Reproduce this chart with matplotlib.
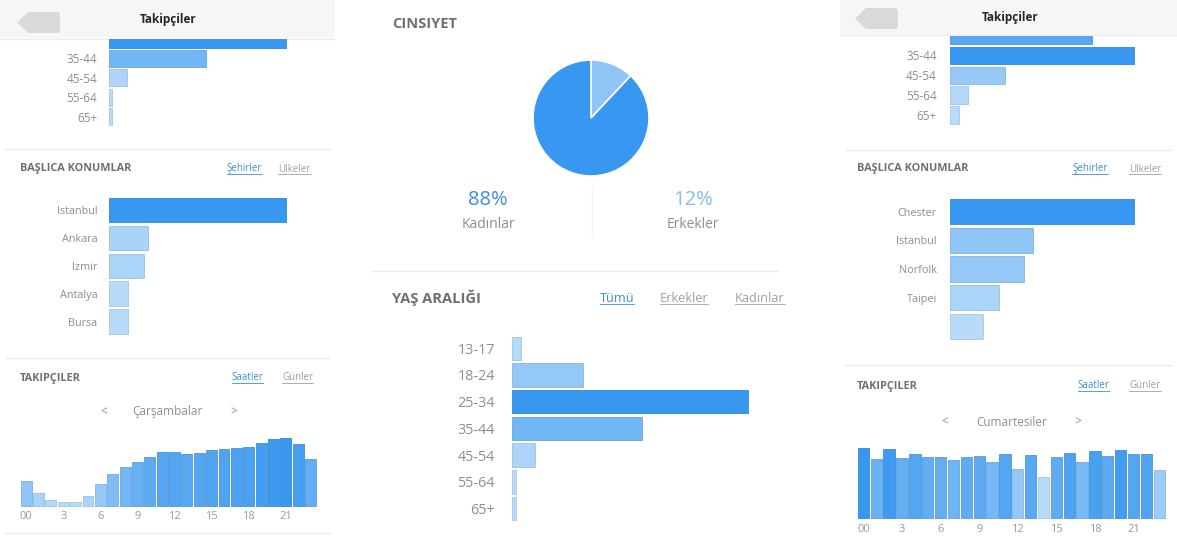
import matplotlib
matplotlib.use("Agg")
import matplotlib.pyplot as plt
from matplotlib.colors import LinearSegmentedColormap
from matplotlib.patches import Polygon, Rectangle
import numpy as np

plt.rcParams['font.family'] = ['Open Sans', 'DejaVu Sans']

W, H = 1177, 540

# ---- data ----
age_labels = ['13-17', '18-24', '25-34', '35-44', '45-54', '55-64', '65+']
age_all = [3.8, 30, 100, 55, 10, 1.7, 1.7]          # middle panel (Tümü)
side_age_labels = ['25-34', '35-44', '45-54', '55-64', '65+']
age_left = [100, 55, 10, 1.7, 1.7]                   # left panel, scrolled
age_right = [77, 100, 30, 9.7, 4.9]                  # right panel, scrolled

cities_left = ['Istanbul', 'Ankara', 'Izmir', 'Antalya', 'Bursa']
city_vals_left = [100, 22, 20, 11, 11]
cities_right = ['Chester', 'Istanbul', 'Norfolk', 'Taipei', '']
city_vals_right = [100, 45, 40.5, 26.5, 17.8]

hours = list(range(24))
hour_ticks = ['00', '3', '6', '9', '12', '15', '18', '21']
wed = [75, 37, 18, 10, 10, 29, 66, 96, 115, 132, 147, 162,
       162, 154, 158, 166, 170, 174, 176, 187, 199, 204, 184, 140]
sat = [212, 178, 208, 182, 192, 183, 183, 175, 185, 187, 170, 193,
       149, 190, 125, 185, 197, 168, 201, 187, 205, 192, 194, 145]

gender = [12, 88]
gender_pct = ['12%', '88%']
gender_labels = ['Erkekler', 'Kadınlar']

GRAY = '#8e8e8e'
HEAD = '#6f6f6f'
BLUE = '#3b8fd6'
LINE = '#ececec'

cmap = LinearSegmentedColormap.from_list('ig', ['#b9dbfa', '#3897f0'])


def shades(vals):
    v = np.array(vals, float)
    return cmap((v - v.min()) / (v.max() - v.min()))


def edges(cols):
    e = cols.copy()
    e[:, :3] = e[:, :3] * 0.9
    return e


fig = plt.figure(figsize=(W / 100, H / 100), dpi=100)
bg = fig.add_axes([0, 0, 1, 1], zorder=0)
bg.set_xlim(0, W)
bg.set_ylim(H, 0)
bg.axis('off')


def px_axes(x0, y0, x1, y1):
    ax = fig.add_axes([x0 / W, 1 - y1 / H, (x1 - x0) / W, (y1 - y0) / H], zorder=2)
    ax.patch.set_alpha(0)
    for s in ax.spines.values():
        s.set_visible(False)
    return ax


def hbars(x0, x1, y_top, y_bot, yc0, pitch, labels, vals, fs, pad, hide_first=False):
    ax = px_axes(x0, y_top, x1, y_bot)
    pos = np.arange(len(vals))
    c = shades(vals)
    ax.barh(pos, vals, height=0.88, color=c, edgecolor=edges(c), linewidth=0.6)
    ax.set_xlim(0, 100.5)
    ax.set_ylim((y_bot - yc0) / pitch, (y_top - yc0) / pitch)
    shown = list(labels)
    if hide_first:
        # first bar is scrolled under the header, its label is hidden
        shown[0] = ''
    ax.set_yticks(pos, shown)
    ax.set_xticks([])
    ax.tick_params(axis='y', length=0, pad=pad, labelsize=fs, labelcolor=GRAY)
    return ax


def hour_bars(x0, x1, y_top, y_base, vals):
    ax = px_axes(x0, y_top, x1, y_base)
    c = shades(vals)
    ax.bar(hours, vals, width=0.88, color=c, edgecolor=edges(c), linewidth=0.6, clip_on=False)
    ax.set_xlim(-0.5, 23.5)
    ax.set_ylim(0, max(vals))
    ax.set_xticks(hours[::3], hour_ticks)
    ax.set_yticks([])
    ax.tick_params(axis='x', length=0, pad=4, labelsize=8, labelcolor='#9a9a9a')
    return ax


def txt(x, y, s, fs=7, color=GRAY, ha='center', bold=False):
    return bg.text(x, y, s, fontsize=fs, color=color, ha=ha, va='center',
                   fontweight='bold' if bold else 'normal')


links = []


def link(x, y, s, color, fs=7):
    links.append((txt(x, y, s, fs, color), color))


def hline(y, x0, x1):
    bg.plot([x0, x1], [y, y], color=LINE, lw=1)


# ---------------- left panel ----------------
bg.add_patch(Rectangle((0, 0), 335, 38, color='#f6f6f6', lw=0))
hline(38.5, 0, 335)
bg.add_patch(Polygon([(17, 22.5), (28, 12), (58, 12), (60, 14), (60, 31), (58, 33), (28, 33)],
                     color='#d9d9d9', lw=0))
txt(168, 20, 'Takipçiler', 8.5, '#262626', bold=True)

hbars(109, 287, 39, 128, 36.5, 20, side_age_labels, age_left, 8.5, 8.5, hide_first=True)
hline(149, 5, 330)
txt(20, 169, 'BAŞLICA KONUMLAR', 7.8, HEAD, ha='left', bold=True)
link(244.5, 169, 'Şehirler', BLUE)
link(294.5, 169, 'Ülkeler', '#a0a0a0')
hbars(109, 287, 196, 335.5, 210, 27.9, cities_left, city_vals_left, 7.8, 8.5)

hline(358, 5, 330)
txt(20, 378, 'TAKIPÇILER', 7.8, HEAD, ha='left', bold=True)
link(247.5, 378, 'Saatler', BLUE)
link(297.5, 378, 'Günler', '#a0a0a0')
txt(104, 412, '<', 8.5)
txt(167, 412, 'Çarşambalar', 8.5)
txt(234, 412, '>', 8.5)
hour_bars(20, 316.7, 437.7, 505.7, wed)
hline(533, 5, 330)

# ---------------- middle panel ----------------
txt(392, 24, 'CINSIYET', 10.5, HEAD, ha='left', bold=True)
pax = px_axes(533, 60, 649, 176)
pax.pie(gender, colors=['#8fc5f6', '#3897f0'], startangle=90, counterclock=False,
        wedgeprops=dict(edgecolor='white', linewidth=1.2))
pax.set_xlim(-1, 1)
pax.set_ylim(-1, 1)
pax.set_aspect('equal')

txt(693, 200, gender_pct[0], 14.5, '#84bdf0')
txt(693, 224, gender_labels[0], 10)
txt(488, 200, gender_pct[1], 14.5, '#3f8ed8')
txt(488, 224, gender_labels[1], 10)
bg.plot([592, 592], [188, 236], color='#f4f4f4', lw=1)
hline(271, 372, 778)

txt(392, 298, 'YAŞ ARALIĞI', 10.5, HEAD, ha='left', bold=True)
link(617, 298, 'Tümü', BLUE, 9.2)
link(684, 298, 'Erkekler', '#a0a0a0', 9.2)
link(760, 298, 'Kadınlar', '#a0a0a0', 9.2)
hbars(511.7, 749, 335, 522, 348.3, 26.7, age_labels, age_all, 10.4, 12)

# ---------------- right panel ----------------
bg.add_patch(Rectangle((840, 0), 337, 35, color='#f6f6f6', lw=0))
hline(35, 840, 1177)
bg.add_patch(Polygon([(855, 18.5), (866, 8), (896, 8), (898, 10), (898, 27), (896, 29), (866, 29)],
                     color='#d9d9d9', lw=0))
txt(1010, 17, 'Takipçiler', 8.5, '#262626', bold=True)

hbars(950, 1134.7, 35.5, 125, 31.8, 20.7, side_age_labels, age_right, 8.5, 9.5, hide_first=True)
hline(150, 845, 1172)
txt(857, 169, 'BAŞLICA KONUMLAR', 7.8, HEAD, ha='left', bold=True)
link(1090, 169, 'Şehirler', BLUE)
link(1145, 169, 'Ülkeler', '#a0a0a0')
hbars(950, 1134.7, 197.1, 340.9, 211.5, 28.75, cities_right, city_vals_right, 7.8, 9.5)

hline(365, 845, 1172)
txt(857, 386, 'TAKIPÇILER', 7.8, HEAD, ha='left', bold=True)
link(1093.5, 386, 'Saatler', BLUE)
link(1145, 386, 'Günler', '#a0a0a0')
txt(945, 422, '<', 8.5)
txt(1012, 422, 'Cumartesiler', 8.5)
txt(1078, 422, '>', 8.5)
hour_bars(857, 1165.7, 447.7, 518.3, sat)

# underlines under the tab links
r = fig.canvas.get_renderer()
inv = bg.transData.inverted()
for t, col in links:
    bb = t.get_window_extent(renderer=r)
    (xa, ya), (xb, yb) = inv.transform([[bb.x0, bb.y0], [bb.x1, bb.y1]])
    bg.plot([xa, xb], [ya - 1, ya - 1], color=col, lw=0.6)

fig.savefig('out.png', dpi=100, facecolor='white')
